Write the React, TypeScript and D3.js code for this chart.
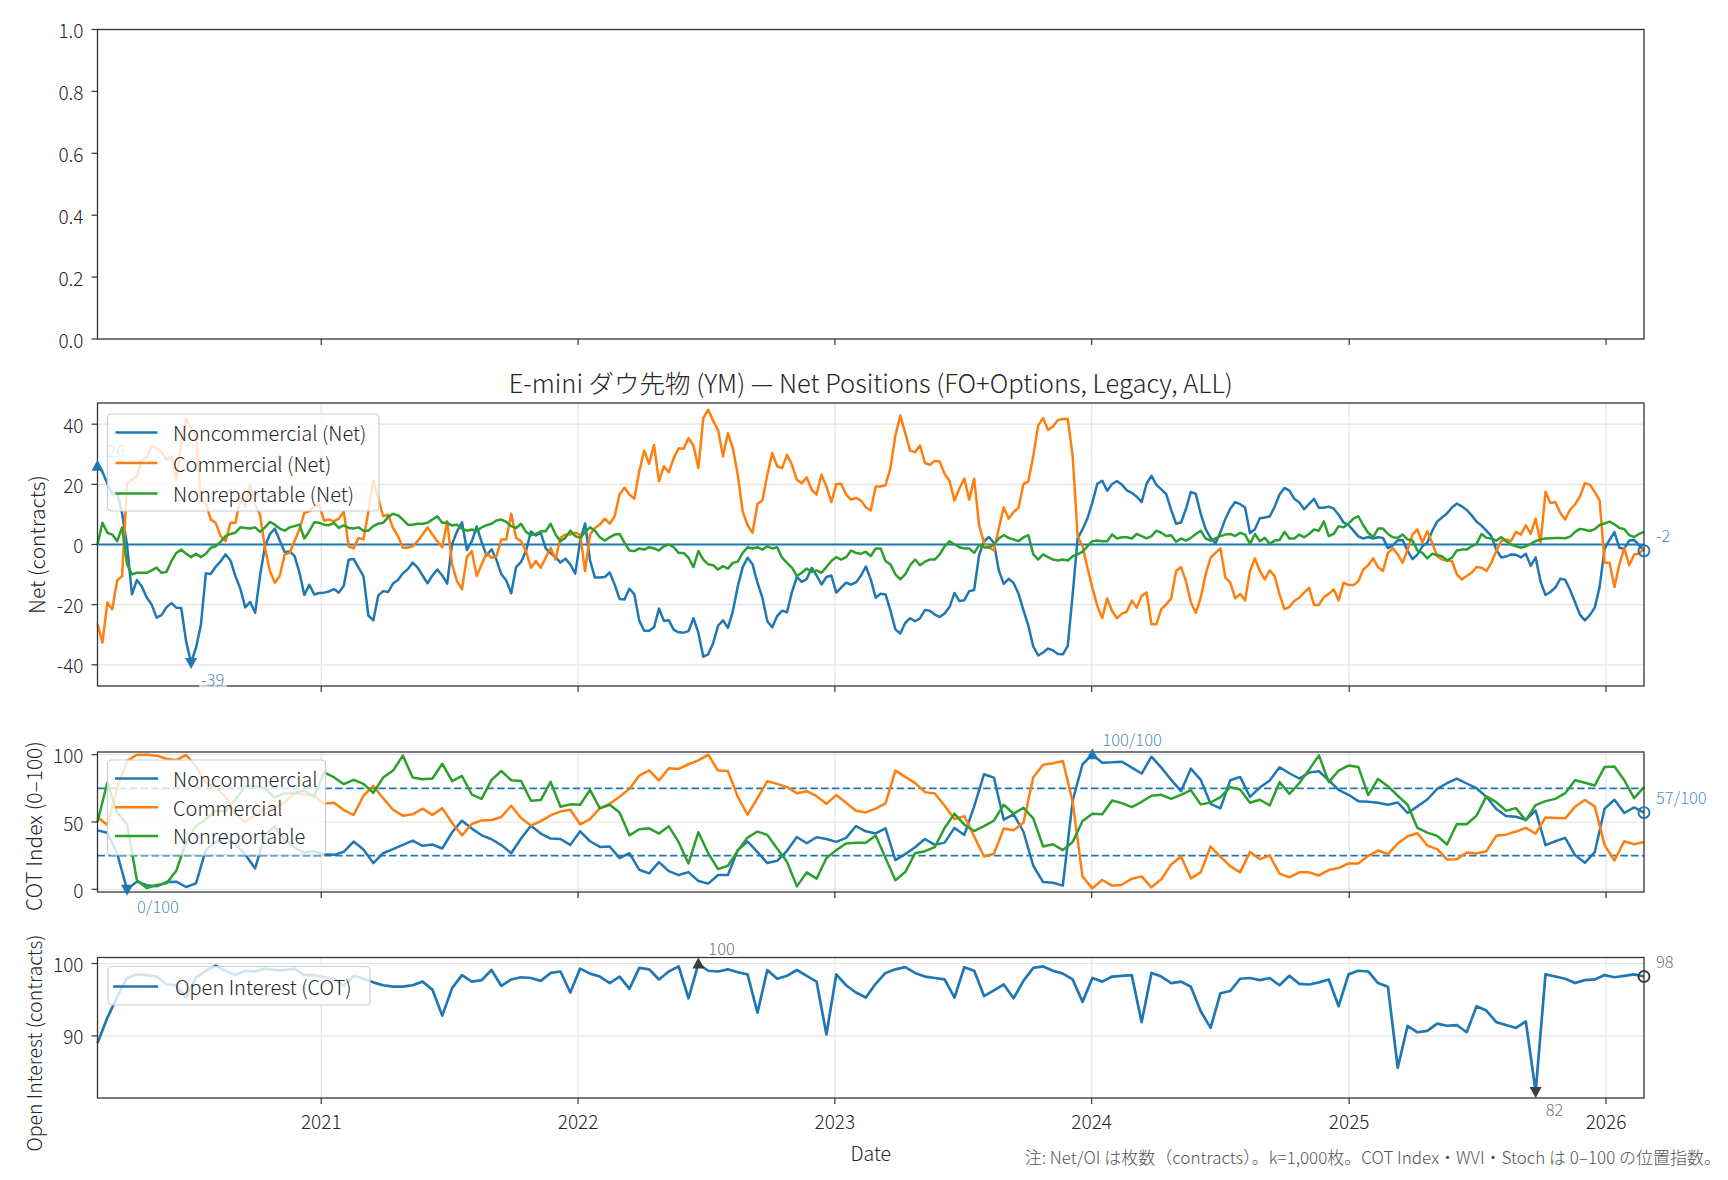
import React from 'react';
import * as d3 from 'd3';

// weekly COT report dates start here (Tuesdays)
const START = new Date(2020, 1, 18);
const END = new Date(2026, 1, 24);

// Net positions, thousand contracts, weekly
const netNoncommercial = [
  26, 24.2, 20.3, 16.7, 17.2, 10.3, -0.2, -16.6, -11.8, -14,
  -17.6, -20, -24.3, -23.5, -20.9, -19.5, -21, -21.1, -32.3, -39.2,
  -34.4, -26.7, -9.6, -9.8, -7.4, -5.6, -3.3, -5.3, -10.5, -14.7,
  -20.9, -19.1, -22.7, -10.5, -0.6, 3.4, 5.3, 1.3, -2.5, -2.3,
  -3.8, -9.3, -16.8, -13.4, -16.6, -16.1, -16, -15.6, -14.8, -16,
  -13.7, -5.1, -4.8, -7.7, -10.5, -23.6, -25.2, -17, -15.5, -15.8,
  -13, -11.8, -9.6, -8.2, -6, -7.7, -10.3, -12.9, -10.3, -8.3,
  -10.3, -13, 0.2, 4.3, 7.4, -1.8, 1, 6, 0.8, -3.7,
  -1.6, -5.1, -9.9, -12, -16.2, -7.5, -5.8, -2.2, 4.3, 3,
  3.9, -1.3, -2.9, -4.2, -6, -4.7, -6.6, -9.7, 1.2, 7,
  -5.3, -11, -11, -10.8, -9.3, -13.3, -18.1, -18.3, -14.7, -16.6,
  -25.3, -28.7, -28.7, -27.5, -21.3, -25.4, -25.2, -28.4, -29.2, -29.3,
  -28.8, -24.5, -29.3, -37.3, -36.5, -32.8, -27, -25.2, -27.7, -22.2,
  -13.9, -7.5, -4.4, -6.6, -12.7, -17.7, -25.5, -27.5, -23.8, -22,
  -22.5, -15.8, -10.8, -12.4, -11.5, -7.8, -10.3, -13.3, -10.8, -10.3,
  -16, -14.3, -12.7, -13.3, -12.6, -10.4, -7.3, -11.6, -17.7, -16.4,
  -16.6, -22, -28.2, -29.6, -26.1, -24.5, -25.5, -24.5, -21.8, -22,
  -23.3, -24.1, -22.9, -20.8, -16.1, -18.8, -18.5, -15.5, -15.1, -3.5,
  1.1, 2.5, 0.6, -8.6, -13.1, -11.4, -12.8, -16.4, -21.8, -27,
  -33.9, -36.9, -35.9, -34.6, -35.2, -36.4, -36.5, -33.7, -16.6, 2,
  5, 8.7, 14, 20.2, 21.2, 17.9, 20.1, 21.1, 19.9, 18,
  17.2, 15.9, 14.1, 20.2, 22.8, 19.8, 18.3, 16.7, 11.5, 6.9,
  7.3, 11.8, 17.5, 16.8, 10.2, 5.1, 2.2, 0.4, 4.1, 8.5,
  11.9, 14.1, 13.4, 12.3, 3.8, 5.1, 8.7, 9, 9.3, 12.5,
  16.6, 18.8, 17.9, 15.2, 14, 11.7, 13.5, 15.2, 12.2, 12.2,
  12.6, 11.9, 9.9, 7.3, 6.5, 4.6, 2.7, 2, 2.5, 2,
  2.4, 2.2, -1.2, -0.3, 1.4, 1.5, -2.1, -4.9, -3.3, -0.6,
  0.6, 4.5, 7.6, 9, 10.3, 12.3, 13.6, 12.7, 11.5, 9.7,
  7.6, 6.3, 4.6, 2.8, -1.7, -4.3, -4, -3.3, -3.4, -4.3,
  -3.1, -7.1, -4.3, -12.3, -16.8, -15.8, -14.3, -11.4, -11.7, -15.1,
  -19.2, -23.4, -25.2, -23.5, -21, -14, -1.4, 1.5, 4.1, -1.1,
  -1.4, 1.3, 1.5, -0.2, -2.1,
];

const netCommercial = [
  -26.5, -32.6, -19.3, -21.5, -11.9, -10.5, 20.4, 21.5, 22.7, 28.2,
  28.7, 32.9, 32, 30.9, 28.2, 29.3, 21.5, 33.7, 41.8, 38.7,
  35.9, 14.4, 13.8, 8.3, 7.2, 2.8, 1.1, 7.2, 7.2, 15.5,
  12.7, 19.9, 13.3, 9.9, -1.1, -8.8, -12.7, -10.5, -3.3, -2.8,
  1.1, 5, 10.5, 11, 12.7, 13.3, 8, 8.3, 7.7, 8.6,
  11, -0.6, -1.3, 2.2, 1.7, 11, 21.2, 15.5, 9.4, 9.9,
  5.5, 2.8, -1.1, -1.1, -0.6, 1.1, 3.3, 5.7, 3.3, 1.1,
  -0.9, 7.7, -6.6, -12.2, -14.9, -4.2, -2.2, -10.5, -6.6, -2.8,
  -4.4, -3.9, 1.7, 1.7, 10.2, 2.2, 1.1, -2.2, -7.7, -5.5,
  -7.7, -4.4, -1.1, -5, 2.2, 3.3, 3.3, 3.9, 3.3, -8.8,
  3.3, 5.5, 6.6, 8.6, 6.9, 9.4, 16.6, 18.9, 16.6, 15.2,
  24.3, 31.2, 26.8, 33.1, 21, 26, 24, 28.7, 32, 31.8,
  35.4, 32.9, 25.4, 42, 44.8, 41.1, 38.1, 29.3, 37, 32,
  23.2, 11, 6.4, 3.9, 13.5, 14.6, 23.2, 30.4, 26, 25.4,
  29.8, 26.5, 21.5, 20.4, 22.3, 18.2, 16.6, 23.2, 19.3, 14.1,
  20.1, 20.1, 16.6, 14.9, 15.5, 14.6, 12.4, 11.3, 19.3, 19.3,
  19.7, 25.4, 36.2, 42.9, 37, 31.2, 30.7, 32.9, 27.1, 26.5,
  27.8, 27.6, 23.4, 21.2, 14.6, 18.6, 21.9, 14.9, 21.9, 6.4,
  0.6, -0.9, -2, 5.3, 12.4, 8.6, 10.8, 12.2, 20.1, 21,
  29.3, 39.6, 42, 38.1, 39.2, 41.4, 41.7, 41.8, 29.3, 2.8,
  -0.6, -7.7, -14.4, -20.4, -24.5, -17.9, -22.1, -24.5, -23, -22.3,
  -18.6, -21, -17.1, -16, -26.5, -26.5, -21.5, -19.9, -17.9, -8.8,
  -7.5, -12.2, -19.3, -22.7, -17.7, -9.9, -4.4, -2.8, -1.3, -11,
  -12.7, -17.9, -16.4, -18.6, -8.8, -4.6, -8.8, -11.6, -8.6, -10.5,
  -16.6, -21.5, -20.8, -18.8, -17.7, -16, -14.4, -20.1, -20.1, -17.5,
  -16.4, -14.9, -18.6, -12.7, -13.5, -13.5, -12.2, -8.3, -6.9, -4.6,
  -7.5, -8.8, -2.8, -1.3, -3.3, -6.1, -1.7, 3.3, 5, 0.6,
  4.4, 0.6, -3.9, -5, -5.3, -5.5, -9.9, -11.6, -10.5, -9.4,
  -7.5, -7.7, -8.8, -6.1, -2.2, 1.1, 1.7, 1.1, 4.2, 3.3,
  6.4, 3.5, 8.6, 0.6, 17.5, 13.8, 14.1, 10.5, 8.3, 11.6,
  13.3, 16, 20.4, 19.9, 17.5, 14.6, -6.1, -6.1, -14.1, -6.6,
  -1.1, -6.9, -3.3, -3, -1.3,
];

const netNonreportable = [
  0, 7.2, 3.9, 3.3, 1.1, 5.7, -6.6, -9.9, -9.4, -9.4,
  -9.4, -8.6, -7.7, -9.4, -9.1, -5.5, -2.8, -1.7, -3.1, -4.2,
  -3.1, -4.2, -3.1, -1.1, -0.6, 0.9, 2.8, 3.5, 3.9, 5.7,
  5.5, 5.3, 5.7, 4.2, 5.7, 7.5, 6.6, 5.3, 4.6, 5.7,
  6.1, 6.6, 2, 4.4, 7.4, 7.2, 6.6, 6.4, 7.2, 5.5,
  6.4, 5.5, 5.3, 5.7, 4.6, 4.6, 6.1, 6.9, 7.2, 9.1,
  10.2, 9.7, 8.3, 6.6, 6.6, 6.9, 6.9, 7.2, 8.3, 9.4,
  7.2, 7.2, 6.3, 6.6, 5.3, 4.6, 5, 4.4, 5.7, 6.4,
  6.9, 8, 8.3, 7.5, 6.1, 5.5, 6.9, 4.2, 3.1, 3.5,
  4.4, 4.4, 6.9, 3.3, 1.1, 2.2, 4.6, 2.8, 2.2, 4.2,
  5.7, 4.6, 2.4, 1.3, 2.4, 3.3, 3.5, 0.6, -2, -2.2,
  -1.3, -1.7, -0.9, -1.3, -2, -0.6, 0, -0.9, -2.8, -2.8,
  -4.4, -7.5, -2.2, -5, -6.6, -6.9, -8.3, -7.2, -8, -6.1,
  -5.7, -2.8, -0.9, -1.3, -0.9, -1.7, -0.6, -1.3, -0.9, -4.4,
  -6.1, -7.7, -10.5, -9.4, -8, -9.1, -8.6, -9.4, -7.5, -5.5,
  -4.2, -5, -4.2, -2, -2.8, -3.1, -2.4, -3.9, -1.3, -1.3,
  -5.5, -6.6, -9.9, -11.6, -9.9, -6.9, -5, -6.9, -5.7, -5,
  -5, -3.3, -0.6, 1.1, 0, -0.9, -1.3, -1.3, -2.8, -0.2,
  -0.9, -1.1, 0, 2, 3.1, 2.2, 1.7, 1.1, 2.4, 3.1,
  -3.3, -5, -3.3, -4.2, -5, -5.3, -5, -5.3, -3.9, -3.3,
  -2.4, -0.6, 1.1, 1.3, 1.1, 1.1, 3.3, 2, 2.4, 2.4,
  2, 3.5, 2.8, 2, 2.8, 4.6, 3.9, 2.8, 3.1, 0.9,
  2, 1.3, 2.2, 3.5, 4.6, 2, 1.3, 2, 2.8, 3.3,
  3.5, 2.8, 3.9, 3.3, 0.2, 3.5, 1.1, 2.2, 0.2, 1.3,
  1.5, 4.2, 2, 2, 3.3, 2.4, 3.5, 5, 4.6, 7.7,
  2.8, 3.5, 6.1, 5.7, 6.9, 8.6, 9.4, 6.4, 3.9, 2.4,
  5.3, 5.3, 3.5, 2.4, 2.2, 3.3, 1.7, 1.3, -2, -2.8,
  -4.6, -3.1, -3.5, -3.9, -5.3, -4.4, -2, -1.7, -1.7, -0.6,
  0.2, 3.5, 2.2, 2, 1.3, 2.4, 1.1, 0, -0.6, -1.1,
  -0.6, 0.2, 1.1, 1.7, 2, 2.1, 2.2, 2.2, 2.1, 2.6,
  4.2, 5.2, 4.9, 4.5, 5.1, 6.5, 7, 7.6, 6.7, 5.5,
  5.1, 3.1, 2.5, 3.5, 4.2,
];

// COT Index (0-100), read every second week
const cotNoncommercial = [
  43.8, 42, 26.4, 0, 5.7, 3, 2.2, 5.4, 5.7, 1.7,
  4.4, 29.3, 35.2, 38.4, 33.5, 25.9, 15.5, 40.4, 46.8, 36.9,
  31, 27.3, 28.3, 26.1, 25.6, 27.8, 35.5, 29.6, 19.5, 26.8,
  29.8, 33, 36.2, 32.3, 33.3, 30.3, 42.4, 51, 45.1, 40.1,
  37.2, 32.8, 26.8, 37.7, 47.3, 41.4, 37.7, 37.4, 33, 43.1,
  35.7, 31.5, 31.8, 23.2, 26.8, 14.5, 11.8, 20.2, 13.5, 10.6,
  12.8, 6.2, 4.2, 10.6, 10.6, 29.1, 35.5, 27.6, 19.5, 21.2,
  28.6, 38.9, 34.2, 38.7, 37.4, 35.2, 38.2, 47, 43.1, 41.5,
  45.3, 21.7, 26.1, 31.3, 37.4, 33, 34.7, 45.6, 40.4, 61.6,
  85.5, 83, 51.7, 55.7, 42.9, 17.5, 5.4, 4.9, 2.7, 66,
  92.9, 100, 94, 94.3, 94.8, 90.4, 86, 98.5, 90.4, 81.3,
  72.9, 89.7, 81.3, 63.5, 60.1, 81, 83.5, 68.7, 75.6, 80.8,
  90.6, 86.2, 82.3, 86.7, 87.7, 81, 73.9, 70.2, 65.5, 65,
  64.3, 62.8, 64.5, 56.7, 61.6, 66.7, 74.6, 78.8, 82.3, 78.6,
  75.1, 68.7, 59.6, 54.4, 53.9, 51.7, 58.4, 32.8, 35.7, 38.2,
  25.4, 19.7, 27.6, 59.9, 66.5, 56.7, 60.8, 57,
];

const cotCommercial = [
  53.7, 47.8, 75.6, 95.3, 100, 100, 99.3, 97, 96, 99.8,
  91.4, 79.3, 75.6, 68.7, 55.7, 50, 55.2, 60.1, 60.8, 64.5,
  71.4, 70.4, 69.7, 63.5, 64.3, 58.9, 55.2, 69.5, 76.8, 67.7,
  59.1, 54.7, 55.7, 59.9, 55.2, 60.3, 49.3, 40.1, 48.5, 51.2,
  51.5, 53.7, 62.1, 53, 47.3, 50.7, 54.9, 57.9, 59.1, 48.3,
  52.2, 60.3, 63.5, 68.7, 74.6, 84.5, 88.4, 80.8, 89.9, 89.4,
  92.9, 95.8, 100, 88.2, 87.9, 68.7, 55.4, 67.7, 80.3, 78.3,
  75.9, 71.4, 72.9, 69.2, 63.5, 70, 64.3, 58.4, 57.1, 60,
  63.8, 88.2, 83.5, 79.1, 72.2, 71.2, 62.1, 52.2, 54.4, 39.2,
  24.4, 26.4, 45.1, 43.8, 49.5, 83.3, 92.6, 93.6, 95.3, 64.8,
  9.4, 0.7, 6.9, 2.7, 3.4, 7.9, 9.6, 1.5, 7.4, 18.5,
  24.4, 8.1, 12.6, 31.8, 24.1, 17.2, 12.6, 27.8, 22.4, 25.1,
  11.6, 8.9, 12.6, 12.6, 10.3, 14.3, 15.8, 19.2, 19.2, 24.9,
  28.8, 26.1, 34, 39.4, 41.6, 32.5, 29.8, 22.2, 22.4, 27.3,
  26.6, 28.3, 39.7, 40.6, 42.9, 45.6, 41.4, 53.4, 53, 52.7,
  61.3, 66.3, 61.6, 32.8, 21.4, 35.7, 33.5, 35.2,
];

const cotNonreportable = [
  50, 79.3, 56.9, 48.5, 6.7, 1, 3.2, 4.4, 13.8, 35.2,
  47, 52, 58.4, 57.9, 66.7, 76.6, 76.6, 74.9, 68.2, 71.2,
  71.4, 73.4, 68.7, 86.9, 83.3, 78.1, 81.3, 78.3, 71.7, 83,
  88.2, 99.3, 83, 81.8, 82.3, 93.3, 80.3, 84.2, 70.4, 67.2,
  81.3, 87.9, 81, 80.5, 65.8, 66.3, 79.8, 61.3, 63.1, 62.8,
  73.9, 60.1, 62.8, 57.1, 40.1, 44.6, 45.3, 41.4, 46.8, 35,
  19.2, 42.4, 26.8, 15, 17.5, 28.6, 38.4, 42.9, 40.4, 30.3,
  20.4, 2.2, 12.6, 7.9, 23.2, 29.1, 34, 34.5, 34.5, 40,
  23.2, 6.7, 12.8, 26.8, 28.3, 31.3, 45.6, 56.2, 48, 43.3,
  47, 51, 62.8, 56.2, 60.6, 52.7, 31.8, 33.5, 29.1, 35.2,
  50.7, 56.2, 55.7, 66, 64, 61.1, 65, 69.5, 70.2, 67.2,
  70.2, 73.6, 63.1, 64.5, 68.5, 75.9, 74.1, 64.3, 66.5, 62.3,
  79.6, 70.9, 78.8, 88.9, 99.5, 79.6, 88.2, 91.9, 90.9, 70,
  82, 76.6, 69.5, 62.8, 45.6, 42.1, 39.7, 33.3, 48.5, 48.3,
  54.7, 69, 64.8, 58.4, 60.3, 51.2, 62.6, 65.5, 67.2, 71.4,
  81, 79.1, 77.1, 90.9, 91.2, 81, 67.7, 75.9,
];

// Open interest, thousand contracts, every second week
const openInterest = [
  89, 92.5, 95.4, 98, 98.5, 98.4, 98.2, 97.1, 97, 95.3,
  98.1, 99, 99.7, 99, 98.4, 99, 98.9, 99.3, 99.1, 99.1,
  99.3, 98.4, 98.4, 98.1, 97.9, 96.9, 98.3, 97.9, 97.4, 97,
  96.8, 96.8, 97, 97.5, 96.4, 92.8, 96.6, 98.4, 97.5, 97.7,
  99.1, 96.9, 97.8, 98.1, 98, 97.6, 98.7, 98.9, 96, 99.3,
  98.6, 98.2, 97.3, 98.2, 96.5, 99.4, 99.2, 97.8, 98.9, 99.6,
  95.2, 99.95, 99, 98.9, 99.2, 98.8, 98.5, 93.2, 99.1, 97.9,
  98.3, 99.1, 98.3, 97.5, 90.2, 98.5, 97, 96, 95.3, 97.2,
  98.7, 99.2, 99.5, 98.7, 98.2, 98, 97.8, 95.3, 99.5, 99,
  95.5, 96.3, 97.1, 95.2, 97.6, 99.4, 99.6, 99, 98.6, 97.8,
  94.7, 98, 97.5, 98.2, 98.3, 98.4, 91.9, 98.7, 98.2, 97.3,
  97.5, 96.8, 93.4, 91.1, 95.9, 96.2, 97.9, 98, 97.7, 98,
  97, 98.3, 97.2, 97.1, 97.4, 97.8, 94.1, 98.5, 99, 98.9,
  97.3, 96.8, 85.6, 91.4, 90.5, 90.7, 91.7, 91.4, 91.5, 90.5,
  94.1, 93.5, 91.9, 91.5, 91.1, 92, 82.3, 98.5, 98.2, 97.9,
  97.3, 97.7, 97.8, 98.4, 98.1, 98.3, 98.5, 98.2,
];

const years = [2021, 2022, 2023, 2024, 2025, 2026];
const topTicks = [0, 0.2, 0.4, 0.6, 0.8, 1.0];
const netTicks = [-40, -20, 0, 20, 40];
const cotTicks = [0, 50, 100];
const cotBands = [25, 75];
const oiTicks = [90, 100];

const netLegend = ['Noncommercial (Net)', 'Commercial (Net)', 'Nonreportable (Net)'];
const cotLegend = ['Noncommercial', 'Commercial', 'Nonreportable'];
const oiLegend = 'Open Interest (COT)';

const TITLE = 'E-mini ダウ先物 (YM) — Net Positions (FO+Options, Legacy, ALL)';
const NOTE = '注: Net/OI は枚数（contracts）。k=1,000枚。COT Index・WVI・Stoch は 0–100 の位置指数。';

const W = 1728;
const H = 1180;
const LEFT = 97.5;
const RIGHT = 1644;
const P = {
  top: { t: 29.5, b: 339 },
  net: { t: 403, b: 686 },
  cot: { t: 752, b: 892 },
  oi: { t: 957.5, b: 1098 },
};
const FONT = "'Noto Sans CJK JP', 'Noto Sans', sans-serif";
const BLUE = '#1f77b4';
const ORANGE = '#ff7f0e';
const GREEN = '#2ca02c';
const INK = '#262626';
const SPINE = '#333333';
const GRID = '#e4e4e4';
const TICK_FS = 19;
const LINE_W = 2.5;

type Panel = { t: number; b: number };

const textWidth = (s: string, fs: number) =>
  [...s].reduce((w, c) => w + (c === '/' ? 0.38 : c === '-' ? 0.34 : 0.55), 0) * fs;

function Spines({ p }: { p: Panel }) {
  return (
    <rect x={LEFT} y={p.t} width={RIGHT - LEFT} height={p.b - p.t}
      fill="none" stroke={SPINE} strokeWidth={1.3} />
  );
}

function XTicks({ p, x, labels }: { p: Panel; x: d3.ScaleTime<number, number>; labels?: boolean }) {
  return (
    <g>
      {years.map((yr) => {
        const px = x(new Date(yr, 0, 1));
        return (
          <g key={yr}>
            <line x1={px} x2={px} y1={p.b} y2={p.b + 6} stroke={SPINE} strokeWidth={1.2} />
            {labels && (
              <text x={px} y={p.b + 31} textAnchor="middle" fontSize={TICK_FS} fill={INK}>{yr}</text>
            )}
          </g>
        );
      })}
    </g>
  );
}

function YTicks({ y, ticks, fmt }: { y: d3.ScaleLinear<number, number>; ticks: number[]; fmt: (v: number) => string }) {
  return (
    <g>
      {ticks.map((t) => (
        <g key={t}>
          <line x1={LEFT - 6} x2={LEFT} y1={y(t)} y2={y(t)} stroke={SPINE} strokeWidth={1.2} />
          <text x={LEFT - 14} y={y(t)} textAnchor="end" dominantBaseline="central" fontSize={TICK_FS} fill={INK}>
            {fmt(t)}
          </text>
        </g>
      ))}
    </g>
  );
}

function Grid({ p, x, y, ticks }: { p: Panel; x: d3.ScaleTime<number, number>; y: d3.ScaleLinear<number, number>; ticks: number[] }) {
  return (
    <g stroke={GRID} strokeWidth={1.2}>
      {years.map((yr) => {
        const px = x(new Date(yr, 0, 1));
        return <line key={yr} x1={px} x2={px} y1={p.t} y2={p.b} />;
      })}
      {ticks.map((t) => (
        <line key={t} x1={LEFT} x2={RIGHT} y1={y(t)} y2={y(t)} />
      ))}
    </g>
  );
}

function Marker({ cx, cy, kind, color }: { cx: number; cy: number; kind: 'max' | 'min' | 'last'; color: string }) {
  if (kind === 'last') {
    return <circle cx={cx} cy={cy} r={5.5} fill="white" fillOpacity={0} stroke={color} strokeWidth={1.9} />;
  }
  const d = kind === 'max'
    ? `M${cx},${cy - 6.5} L${cx + 6},${cy + 4.5} L${cx - 6},${cy + 4.5} Z`
    : `M${cx},${cy + 6.5} L${cx + 6},${cy - 4.5} L${cx - 6},${cy - 4.5} Z`;
  return <path d={d} fill={color} />;
}

function Note({ cx, cy, kind, text, color }: { cx: number; cy: number; kind: 'max' | 'min' | 'last'; text: string; color: string }) {
  const fs = 16.5;
  const tx = cx + (kind === 'last' ? 12 : 10);
  const ty = cy + (kind === 'min' ? 17 : -16);
  const w = textWidth(text, fs);
  return (
    <g>
      <rect x={tx - 2} y={ty - 9} width={w + 4} height={18} fill="white" fillOpacity={0.65} />
      <text x={tx} y={ty} dominantBaseline="central" fontSize={fs} fill={color} fillOpacity={0.85}>{text}</text>
    </g>
  );
}

function Legend({ x, y, w, h, rows, hx1, hx2, tx }: {
  x: number; y: number; w: number; h: number;
  rows: { label: string; color: string; cy: number }[];
  hx1: number; hx2: number; tx: number;
}) {
  return (
    <g>
      <rect x={x} y={y} width={w} height={h} rx={4} fill="white" fillOpacity={0.8} stroke="#cccccc" strokeWidth={1.2} />
      {rows.map((r) => (
        <g key={r.label}>
          <line x1={hx1} x2={hx2} y1={r.cy} y2={r.cy} stroke={r.color} strokeWidth={LINE_W} />
          <text x={tx} y={r.cy} dominantBaseline="central" fontSize={20} fill={INK}>{r.label}</text>
        </g>
      ))}
    </g>
  );
}

export default function App() {
  const x = d3.scaleTime().domain([START, END]).range([LEFT, RIGHT]);
  const weekDates = netNoncommercial.map((_, i) => d3.timeDay.offset(START, 7 * i));
  const biDates = cotNoncommercial.map((_, i) => d3.timeDay.offset(START, 14 * i));

  const netAbs = (d3.max([...netNoncommercial, ...netCommercial, ...netNonreportable], (v) => Math.abs(v)) as number) * 1.05;
  const yTop = d3.scaleLinear().domain([0, 1]).range([P.top.b, P.top.t]);
  const yNet = d3.scaleLinear().domain([-netAbs, netAbs]).range([P.net.b, P.net.t]);
  const yCot = d3.scaleLinear().domain([-2, 102]).range([P.cot.b, P.cot.t]);
  const [oiLo, oiHi] = d3.extent(openInterest) as [number, number];
  const oiPad = (oiHi - oiLo) * 0.05;
  const yOi = d3.scaleLinear().domain([oiLo - oiPad, oiHi + oiPad]).range([P.oi.b, P.oi.t]);

  const path = (vals: number[], dates: Date[], y: d3.ScaleLinear<number, number>) =>
    d3.line<number>().x((_, i) => x(dates[i])).y((v) => y(v))(vals) as string;

  const annot = (vals: number[], dates: Date[], y: d3.ScaleLinear<number, number>, fmt: (v: number) => string) => {
    const iMax = d3.maxIndex(vals);
    const iMin = d3.minIndex(vals);
    const iLast = vals.length - 1;
    return [
      { kind: 'max' as const, cx: x(dates[iMax]), cy: y(vals[iMax]), text: fmt(vals[iMax]) },
      { kind: 'min' as const, cx: x(dates[iMin]), cy: y(vals[iMin]), text: fmt(vals[iMin]) },
      { kind: 'last' as const, cx: x(dates[iLast]), cy: y(vals[iLast]), text: fmt(vals[iLast]) },
    ];
  };

  const netNotes = annot(netNoncommercial, weekDates, yNet, (v) => `${Math.round(v)}`);
  const cotNotes = annot(cotNoncommercial, biDates, yCot, (v) => `${Math.round(v)}/100`);
  const oiNotes = annot(openInterest, biDates, yOi, (v) => `${Math.round(v)}`);

  const netSeries = [
    { vals: netNoncommercial, color: BLUE },
    { vals: netCommercial, color: ORANGE },
    { vals: netNonreportable, color: GREEN },
  ];
  const cotSeries = [
    { vals: cotNoncommercial, color: BLUE },
    { vals: cotCommercial, color: ORANGE },
    { vals: cotNonreportable, color: GREEN },
  ];

  return (
    <div style={{ position: 'absolute', left: 0, top: 0 }}>
      <svg width={W} height={H} viewBox={`0 0 ${W} ${H}`} style={{ display: 'block', background: 'white' }}
        fontFamily={FONT} fontWeight={300}>
        <rect width={W} height={H} fill="white" />

        {/* empty top axes */}
        <YTicks y={yTop} ticks={topTicks} fmt={d3.format('.1f')} />
        <XTicks p={P.top} x={x} />
        <Spines p={P.top} />

        {/* net positions */}
        <text x={(LEFT + RIGHT) / 2} y={393} textAnchor="middle" fontSize={25.5} fill={INK}>{TITLE}</text>
        <Grid p={P.net} x={x} y={yNet} ticks={netTicks} />
        <line x1={LEFT} x2={RIGHT} y1={yNet(0)} y2={yNet(0)} stroke={BLUE} strokeWidth={1.8} />
        {netSeries.map((s) => (
          <path key={s.color} d={path(s.vals, weekDates, yNet)} fill="none" stroke={s.color} strokeWidth={LINE_W} strokeLinejoin="round" />
        ))}
        <Spines p={P.net} />
        <YTicks y={yNet} ticks={netTicks} fmt={(v) => `${v}`} />
        <XTicks p={P.net} x={x} />
        {netNotes.map((n) => (
          <g key={n.kind}>
            <Marker cx={n.cx} cy={n.cy} kind={n.kind} color={BLUE} />
            <Note cx={n.cx} cy={n.cy} kind={n.kind} text={n.text} color={BLUE} />
          </g>
        ))}
        <Legend x={107.5} y={414} w={271.5} h={97} hx1={115.5} hx2={157.5} tx={173}
          rows={netLegend.map((label, i) => ({ label, color: netSeries[i].color, cy: 432.5 + i * 30.5 }))} />
        <text transform={`translate(36,${(P.net.t + P.net.b) / 2}) rotate(-90)`} textAnchor="middle"
          dominantBaseline="central" fontSize={21} fill={INK}>Net (contracts)</text>

        {/* COT index */}
        <Grid p={P.cot} x={x} y={yCot} ticks={cotTicks} />
        {cotBands.map((b) => (
          <line key={b} x1={LEFT} x2={RIGHT} y1={yCot(b)} y2={yCot(b)} stroke={BLUE} strokeWidth={1.7} strokeDasharray="7.5,3.3" />
        ))}
        {cotSeries.map((s) => (
          <path key={s.color} d={path(s.vals, biDates, yCot)} fill="none" stroke={s.color} strokeWidth={LINE_W} strokeLinejoin="round" />
        ))}
        <Spines p={P.cot} />
        <YTicks y={yCot} ticks={cotTicks} fmt={(v) => `${v}`} />
        <XTicks p={P.cot} x={x} />
        {cotNotes.map((n) => (
          <g key={n.kind}>
            <Marker cx={n.cx} cy={n.cy} kind={n.kind} color={BLUE} />
            <Note cx={n.cx} cy={n.cy} kind={n.kind} text={n.text} color={BLUE} />
          </g>
        ))}
        <Legend x={107.5} y={760} w={218} h={95} hx1={115} hx2={158} tx={173}
          rows={cotLegend.map((label, i) => ({ label, color: cotSeries[i].color, cy: 778.5 + i * 28.7 }))} />
        <text transform={`translate(33,826) rotate(-90)`} textAnchor="middle"
          dominantBaseline="central" fontSize={21} fill={INK}>COT Index (0–100)</text>

        {/* open interest */}
        <Grid p={P.oi} x={x} y={yOi} ticks={oiTicks} />
        <path d={path(openInterest, biDates, yOi)} fill="none" stroke={BLUE} strokeWidth={LINE_W + 0.2} strokeLinejoin="round" />
        <Spines p={P.oi} />
        <YTicks y={yOi} ticks={oiTicks} fmt={(v) => `${v}`} />
        <XTicks p={P.oi} x={x} labels />
        {oiNotes.map((n) => (
          <g key={n.kind}>
            <Marker cx={n.cx} cy={n.cy} kind={n.kind} color="#3d3d3d" />
            <Note cx={n.cx} cy={n.cy} kind={n.kind} text={n.text} color="#555555" />
          </g>
        ))}
        <Legend x={108} y={966.5} w={262} h={38.5} hx1={113} hx2={158} tx={175}
          rows={[{ label: oiLegend, color: BLUE, cy: 986.5 }]} />
        <text transform={`translate(33,1043) rotate(-90)`} textAnchor="middle"
          dominantBaseline="central" fontSize={19.5} fill={INK}>Open Interest (contracts)</text>

        <text x={(LEFT + RIGHT) / 2} y={1161} textAnchor="middle" fontSize={19.5} fill={INK}>Date</text>
        <text x={1721} y={1164} textAnchor="end" fontSize={17} fill="#555555">{NOTE}</text>
      </svg>
    </div>
  );
}
